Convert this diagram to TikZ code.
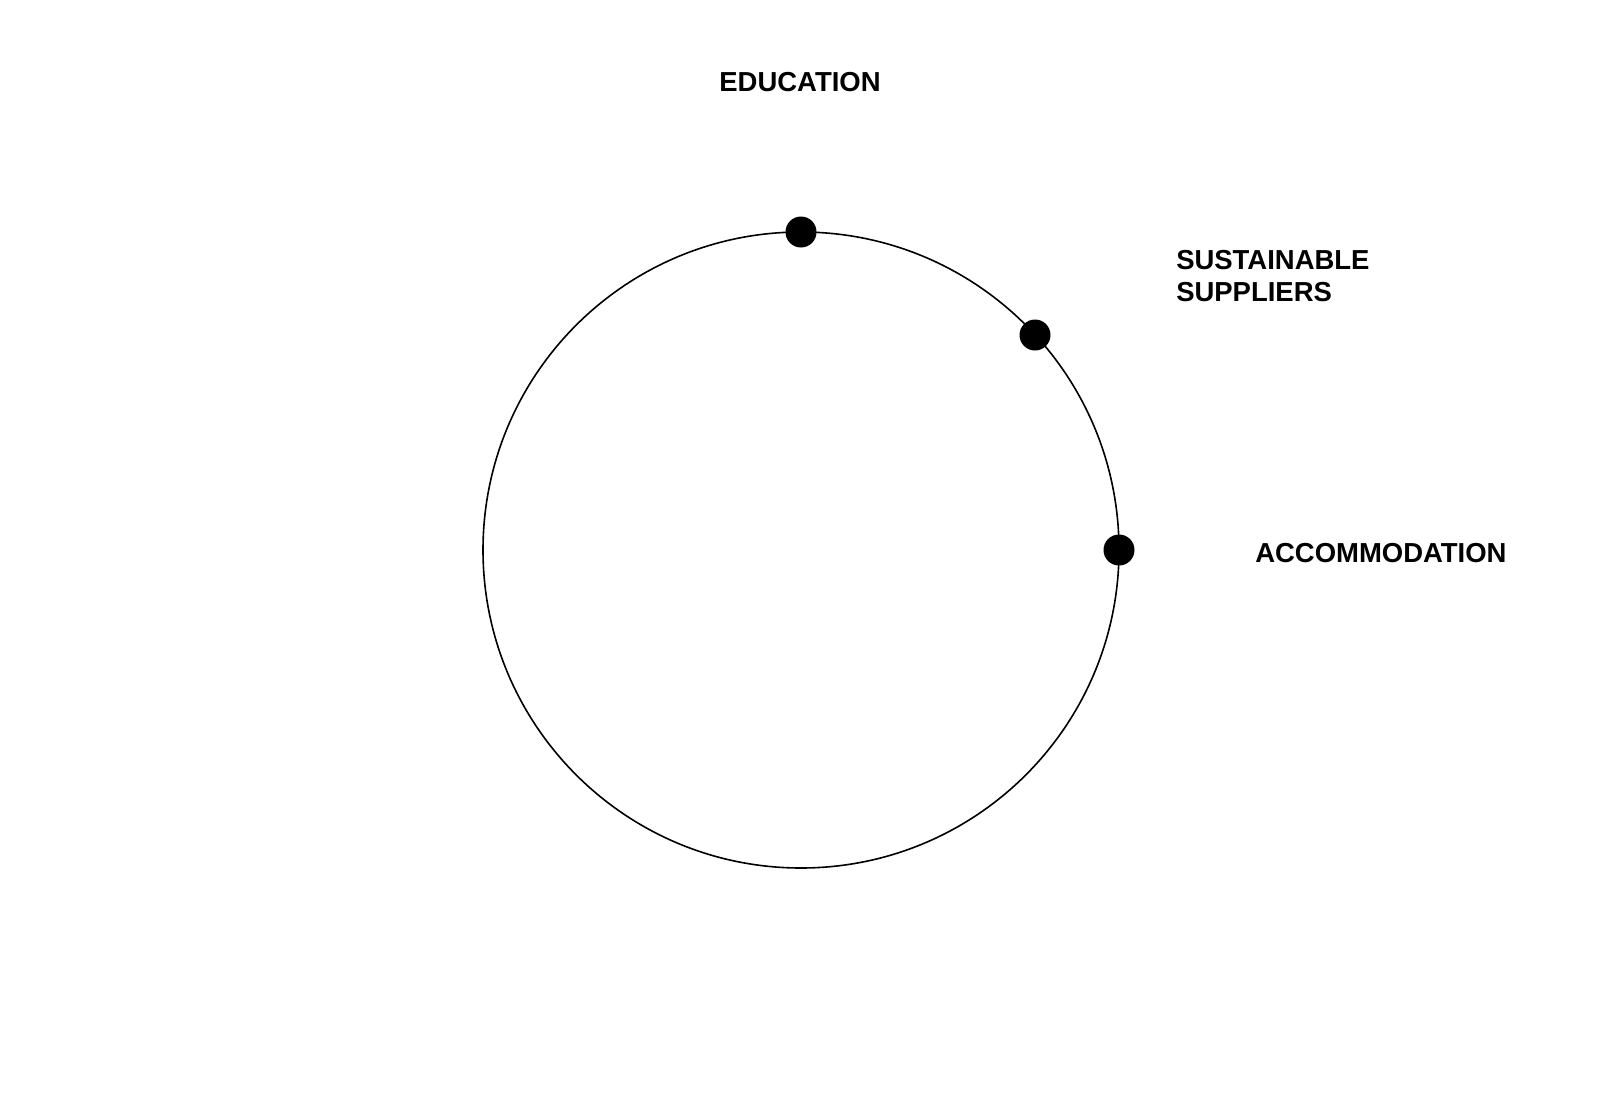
\documentclass[tikz,border=0pt]{standalone}
\usepackage{fontspec}
\setmainfont{Liberation Sans}

\begin{document}
\begin{tikzpicture}[x=0.75pt, y=-0.75pt,
		dot/.style={circle, fill=black, inner sep=0pt, minimum size=23.25pt},
		lbl/.style={font=\bfseries\fontsize{20.6}{24.2}\selectfont, inner sep=0pt}]
		\useasboundingbox (0,0) rectangle (1600,1100);
		\coordinate (c) at (801,550);
		\draw[line width=1.2pt] (c) circle (318);
		% points on the ring
		\node[dot] (dedu) at (801,232) {};
		\node[dot] (dsup) at (1035,335) {};
		\node[dot] (dacc) at (1119,550) {};
		% labels
		\node[lbl, anchor=base] (edu) at (800,91.7) {EDUCATION};
		\node[lbl, anchor=north west, align=left] (sup) at (1176,250) {SUSTAINABLE\\SUPPLIERS};
		\node[lbl, anchor=base west] (acc) at (1255,562.7) {ACCOMMODATION};
	\end{tikzpicture}
\end{document}
